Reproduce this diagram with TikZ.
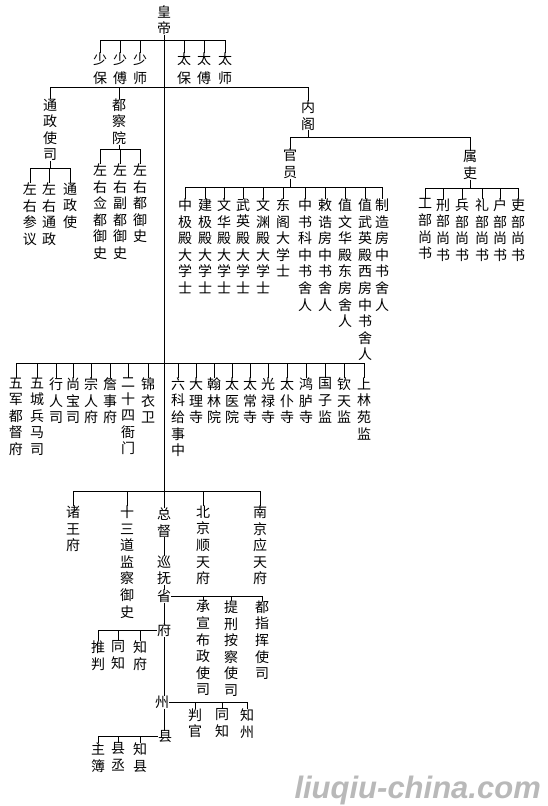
\documentclass[tikz,border=0pt]{standalone}
\usepackage{fontspec}
\newfontfamily\cjk{Noto Sans CJK SC}
\newfontfamily\wmfont{Liberation Sans}
\makeatletter
\def\vst#1{\vst@a#1\vst@end}
\def\vst@a#1#2\vst@end{#1\ifx\relax#2\relax\expandafter\@gobble\else\expandafter\@firstofone\fi{\\\vst@a#2\vst@end}}
\makeatother
\tikzset{
  vc/.style={inner sep=0pt, align=center, anchor=north, yshift=4.5pt, font=\cjk\fontsize{14}{16.6}\selectfont},
  vcw/.style={font=\cjk\fontsize{14}{19}\selectfont},
  vcn/.style={font=\cjk\fontsize{14}{16}\selectfont},
  ln/.style={line width=1pt}
}
\newcommand\vnode[4][]{\node[vc,#1] (#2) at (#3) {\vst{#4}};}
\newcommand\bus[4]{%
  \draw[ln] (#2.north) -- (#2.north |- 0,#1) -- (#3.north |- 0,#1) -- (#3.north);
  \foreach \c in {#4} {\draw[ln] (\c.north) -- (\c.north |- 0,#1);}}
\begin{document}
\begin{tikzpicture}[x=1pt,y=-1pt]
\useasboundingbox (0,0) rectangle (547,806);
\fill[white] (0,0) rectangle (547,806);
% top
\vnode[vcn]{hd}{164,10}{皇帝}
\vnode[vcw]{sb}{100,57}{少保}
\vnode[vcw]{sf}{120,57}{少傅}
\vnode[vcw]{ss}{140,57}{少师}
\vnode[vcw]{tb}{184,57}{太保}
\vnode[vcw]{tf}{204,57}{太傅}
\vnode[vcw]{ts}{225,57}{太师}
% level 2
\vnode{tzss}{50,103}{通政使司}
\vnode{dcy}{119,103}{都察院}
\vnode{ng}{308,105}{内阁}
\vnode{zycy}{30,187}{左右参议}
\vnode{zytz}{49,187}{左右通政}
\vnode{tzs}{70,187}{通政使}
\vnode{zyqd}{100,168}{左右佥都御史}
\vnode{zyfd}{120,168}{左右副都御史}
\vnode{zyd}{140,168}{左右都御史}
\vnode{gy}{290,153}{官员}
\vnode{sl}{470,155}{属吏}
\vnode{ga}{185,203}{中极殿大学士}
\vnode{gb}{205,203}{建极殿大学士}
\vnode{gc}{224,203}{文华殿大学士}
\vnode{gd}{243,203}{武英殿大学士}
\vnode{ge}{263,203}{文渊殿大学士}
\vnode{gf}{283,203}{东阁大学士}
\vnode{gg}{305,203}{中书科中书舍人}
\vnode{gh}{325,203}{敕诰房中书舍人}
\vnode{gi}{345,203}{值文华殿东房舍人}
\vnode{gj}{365,203}{值武英殿西房中书舍人}
\vnode{gk}{382,203}{制造房中书舍人}
\vnode{sa}{425,203}{工部尚书}
\vnode{sbb}{443,203}{刑部尚书}
\vnode{sc}{462,203}{兵部尚书}
\vnode{sd}{482,203}{礼部尚书}
\vnode{se}{500,203}{户部尚书}
\vnode{sff}{518,203}{吏部尚书}
% level 3
\vnode{la}{16,382}{五军都督府}
\vnode{lb}{37,382}{五城兵马司}
\vnode{lc}{56,382}{行人司}
\vnode{ld}{73,382}{尚宝司}
\vnode{le}{91,382}{宗人府}
\vnode{lf}{110,382}{詹事府}
\vnode{lg}{128,382}{二十四衙门}
\vnode{lh}{148,382}{锦衣卫}
\vnode{ra}{178,382}{六科给事中}
\vnode{rb}{196,382}{大理寺}
\vnode{rc}{214,382}{翰林院}
\vnode{rd}{232,382}{太医院}
\vnode{re}{250,382}{太常寺}
\vnode{rf}{268,382}{光禄寺}
\vnode{rg}{287,382}{太仆寺}
\vnode{rh}{306,382}{鸿胪寺}
\vnode{ri}{325,382}{国子监}
\vnode{rj}{344,382}{钦天监}
\vnode{rk}{364,382}{上林苑监}
% level 4
\vnode{zw}{73,510}{诸王府}
\vnode{sdj}{127,510}{十三道监察御史}
\vnode{zd}{164,512}{总督}
\vnode{bj}{203,510}{北京顺天府}
\vnode{nj}{260,510}{南京应天府}
\vnode{xf}{164,560}{巡抚}
\vnode{sh}{164,594}{省}
\vnode{fu}{164,628}{府}
\vnode{zh}{162,700}{州}
\vnode{xn}{165,735}{县}
\vnode{cx}{203,605}{承宣布政使司}
\vnode{tx}{231,605}{提刑按察使司}
\vnode{dz}{262,605}{都指挥使司}
\vnode{tp}{98,645}{推判}
\vnode{ftz}{118,645}{同知}
\vnode{zf}{140,645}{知府}
\vnode{pg}{195,713}{判官}
\vnode{ztz}{222,713}{同知}
\vnode{zzh}{247,713}{知州}
\vnode{zb}{98,747}{主簿}
\vnode{xc}{118,747}{县丞}
\vnode{zx}{140,747}{知县}
% connectors
\draw[ln] (hd.south) -- (hd.south |- 0,491);
\bus{40}{sb}{ts}{sf,ss,tb,tf}
\bus{87}{tzss}{ng}{dcy}
\draw[ln] (tzss.south) -- (tzss.south |- 0,168);
\bus{168}{zycy}{tzs}{zytz}
\draw[ln] (dcy.south) -- (dcy.south |- 0,149);
\bus{149}{zyqd}{zyd}{zyfd}
\draw[ln] (ng.south) -- (ng.south |- 0,137);
\bus{137}{gy}{sl}{gy}
\draw[ln] (gy.south) -- (gy.south |- 0,187);
\bus{187}{ga}{gk}{gb,gc,gd,ge,gf,gg,gh,gi,gj}
\draw[ln] (sl.south) -- (sl.south |- 0,188);
\bus{188}{sa}{sff}{sbb,sc,sd,se}
\bus{363}{la}{rk}{lb,lc,ld,le,lf,lg,lh,ra,rb,rc,rd,re,rf,rg,rh,ri,rj}
\bus{491}{zw}{nj}{sdj,zd,bj}
\draw[ln] (zd.south) -- (xf.north);
\draw[ln] (xf.south) -- (sh.north);
\draw[ln] (sh.south) -- (fu.north);
\draw[ln] (fu.south) -- (fu.south |- zh.north);
\draw[ln] (zh.south -| fu.south) -- (xn.north -| fu.south);
\draw[ln] (sh.east) -- (dz.north |- sh.east) -- (dz.north);
\foreach \c in {cx,tx} {\draw[ln] (\c.north) -- (\c.north |- sh.east);}
\draw[ln] (fu.west) -- (tp.north |- fu.west) -- (tp.north);
\foreach \c in {ftz,zf} {\draw[ln] (\c.north) -- (\c.north |- fu.west);}
\draw[ln] (zh.east) -- (zzh.north |- zh.east) -- (zzh.north);
\foreach \c in {pg,ztz} {\draw[ln] (\c.north) -- (\c.north |- zh.east);}
\draw[ln] (xn.west) -- (zb.north |- xn.west) -- (zb.north);
\foreach \c in {xc,zx} {\draw[ln] (\c.north) -- (\c.north |- xn.west);}
% watermark
\node[font=\wmfont\bfseries\itshape\fontsize{31}{31}\selectfont, text=gray!55, anchor=base east, inner sep=0pt] (wm) at (541,798) {liuqiu-china.com};
\end{tikzpicture}
\end{document}
